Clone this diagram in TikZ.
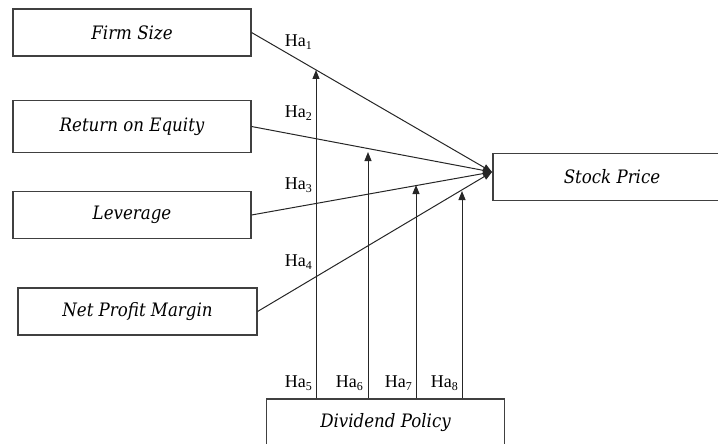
\documentclass[tikz,border=0pt]{standalone}
\usepackage{fontspec}
\newfontfamily\hafont{Liberation Serif}
\newfontfamily\boxfont{DejaVu Serif Condensed}
\usetikzlibrary{positioning, arrows.meta, calc}

\newcommand{\ha}[1]{Ha\raisebox{-2.5pt}{\fontsize{12}{12}\selectfont #1}}

\tikzset{
  varbox/.style={draw=black!75, line width=1.1pt, minimum width=238pt, minimum height=47pt,
    inner sep=0pt, font=\boxfont\fontsize{18.5}{22}\selectfont\itshape},
  link/.style={draw=black!85, line width=1pt, -{Triangle[length=9pt,width=7pt]}},
  halabel/.style={anchor=east, inner sep=1pt, font=\hafont\fontsize{18}{20}\selectfont},
}

\begin{document}
\begin{tikzpicture}[x=1pt, y=-1pt]
  \useasboundingbox (0,0) rectangle (718,444);

  % variables
  \node[varbox] (fs) at (132,32.5) {Firm Size};
  \node[varbox, minimum height=52pt] (roe) at (132,126.5) {Return on Equity};
  \node[varbox] (lev) at (132,215) {Leverage};
  \node[varbox, minimum width=239pt] (npm) at (137.5,311.5) {Net Profit Margin};
  \node[varbox] (sp) at (612,177) {Stock Price};
  \node[varbox] (dp) at (385.5,422.5) {Dividend Policy};

  % direct effects
  \coordinate (hub) at (492,172);
  \foreach \v in {fs,roe,lev,npm} {
    \draw[link] (\v.east) -- (hub);
  }

  % moderating effects
  \coordinate (t1) at (316,70);
  \coordinate (t2) at (368,152);
  \coordinate (t3) at (416,185);
  \coordinate (t4) at (462,191);
  \foreach \t in {1,...,4} {
    \draw[link] (dp.north -| t\t) -- (t\t);
  }

  % labels
  \node[halabel] (ha1) at (313,42) {\ha{1}};
  \node[halabel] (ha2) at (313,113) {\ha{2}};
  \node[halabel] (ha3) at (313,185) {\ha{3}};
  \node[halabel] (ha4) at (313,262) {\ha{4}};
  \node[halabel] (ha5) at (313,383) {\ha{5}};
  \node[halabel] (ha6) at (364,383) {\ha{6}};
  \node[halabel] (ha7) at (413,383) {\ha{7}};
  \node[halabel] (ha8) at (459,383) {\ha{8}};
\end{tikzpicture}
\end{document}
